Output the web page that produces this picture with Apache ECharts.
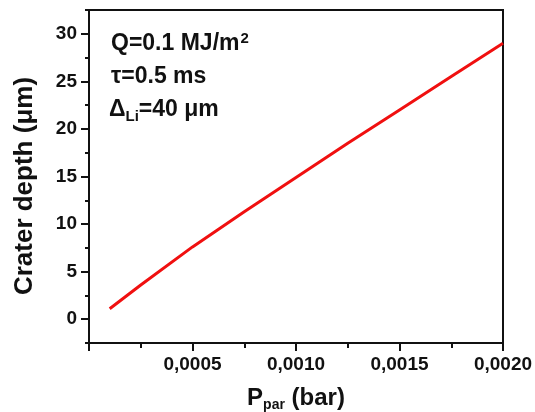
<!DOCTYPE html>
<html>
<head>
<meta charset="utf-8">
<script src="https://cdn.jsdelivr.net/npm/echarts@6/dist/echarts.min.js"></script>
<style>
html,body{margin:0;padding:0;background:#fff;}
#c{width:535px;height:412px;}
</style>
</head>
<body>
<div id="c"></div>
<script>
// Data
var pressure = [0.0001, 0.00025, 0.0005, 0.00075, 0.0010, 0.00125, 0.0015, 0.00175, 0.0020];
var depth    = [1.1,    3.6,     7.6,    11.3,    14.9,   18.5,    22.0,   25.5,    29.0];
var yTickValues = [0, 5, 10, 15, 20, 25, 30];

var FONT = "'Liberation Sans', Arial, sans-serif";
var chart = echarts.init(document.getElementById('c'));
var seriesData = pressure.map(function (p, i) { return [p, depth[i]]; });

chart.setOption({
  animation: false,
  backgroundColor: '#ffffff',
  grid: { left: 89, right: 32, top: 10, bottom: 69, outerBoundsMode: 'none', containLabel: false,
          show: true, borderColor: '#111', borderWidth: 2, backgroundColor: 'transparent' },
  xAxis: {
    type: 'value', min: 0, max: 0.002, interval: 0.0005,
    axisLine: { show: true, onZero: false, lineStyle: { color: '#111', width: 2 } },
    axisTick: { show: true, inside: false, length: 8, lineStyle: { color: '#111', width: 2 } },
    minorTick: { show: true, splitNumber: 2, length: 5, lineStyle: { color: '#111', width: 2 } },
    splitLine: { show: false },
    axisLabel: {
      margin: 12, color: '#111', fontFamily: FONT, fontWeight: 'bold', fontSize: 19,
      formatter: function (v) { return v === 0 ? '' : v.toFixed(4).replace('.', ','); }
    },
    name: '{p|P}{s|par}{p| (bar)}', nameLocation: 'middle', nameGap: 42,
    nameTextStyle: {
      rich: {
        p: { fontFamily: FONT, fontWeight: 'bold', fontSize: 24, color: '#111', lineHeight: 26 },
        s: { fontFamily: FONT, fontWeight: 'bold', fontSize: 14, color: '#111', lineHeight: 26, padding: [14, 0, 0, 0] }
      }
    }
  },
  yAxis: [{
    type: 'value', min: -2.5, max: 32.5,
    axisLine: { show: true, onZero: false, lineStyle: { color: '#111', width: 2 } },
    axisTick: { show: true, inside: false, length: 8, customValues: yTickValues, lineStyle: { color: '#111', width: 2 } },
    splitLine: { show: false },
    axisLabel: { customValues: yTickValues, margin: 12, color: '#111', fontFamily: FONT, fontWeight: 'bold', fontSize: 19 }
  }, {
    type: 'value', min: -2.5, max: 32.5, interval: 2.5, position: 'left',
    axisLine: { show: false, onZero: false },
    axisTick: { show: true, inside: false, length: 4, lineStyle: { color: '#111', width: 2 } },
    axisLabel: { show: false },
    splitLine: { show: false }
  }],
  series: [{
    type: 'line', data: seriesData, yAxisIndex: 0, showSymbol: false, smooth: false,
    lineStyle: { color: '#f01010', width: 3 }, z: 3
  }],
  graphic: [{
    type: 'text', x: 25, y: 186, rotation: Math.PI / 2,
    style: { text: 'Crater depth (μm)', font: 'bold 26px ' + FONT, fill: '#111', align: 'center', verticalAlign: 'middle' }
  }, {
    type: 'text', left: 111, top: 31,
    style: {
      text: '{a|Q=0.1 MJ/m}{b|2}',
      rich: {
        a: { fontFamily: FONT, fontWeight: 'bold', fontSize: 23, fill: '#111', lineHeight: 26 },
        b: { fontFamily: FONT, fontWeight: 'bold', fontSize: 15, fill: '#111', lineHeight: 26, padding: [0, 0, 11, 1] }
      }
    }
  }, {
    type: 'text', left: 111, top: 65,
    style: { text: 'τ=0.5 ms', font: 'bold 23px ' + FONT, fill: '#111' }
  }, {
    type: 'text', left: 109, top: 96,
    style: {
      text: '{a|Δ}{b|Li}{a|=40 μm}',
      rich: {
        a: { fontFamily: FONT, fontWeight: 'bold', fontSize: 23, fill: '#111', lineHeight: 26 },
        b: { fontFamily: FONT, fontWeight: 'bold', fontSize: 15, fill: '#111', lineHeight: 26, padding: [13, 0, 0, 0] }
      }
    }
  }]
});
</script>
</body>
</html>
